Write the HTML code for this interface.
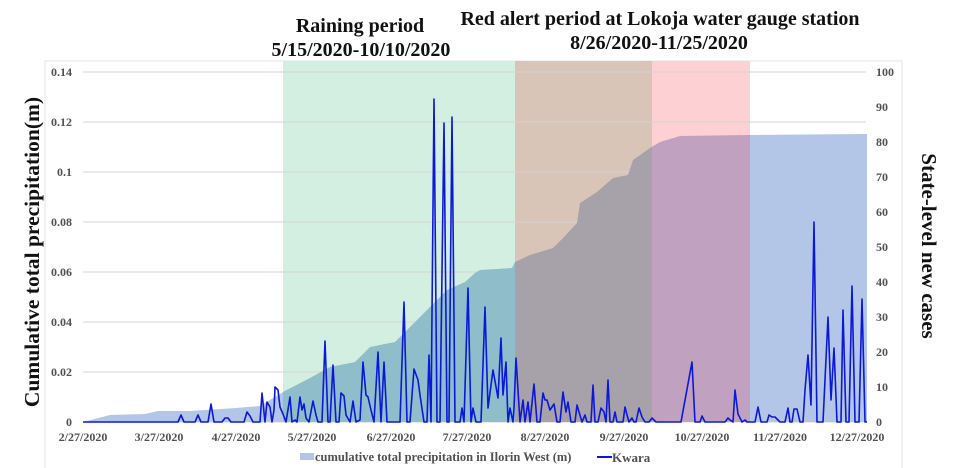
<!DOCTYPE html>
<html><head><meta charset="utf-8"><style>
html,body{margin:0;padding:0;background:#fff;}
svg{display:block;font-family:"Liberation Serif",serif;}
.t{font-weight:bold;font-size:12px;fill:#505050;}
.h{font-weight:bold;font-size:20px;fill:#111;}
</style></head><body>
<svg width="970" height="468" viewBox="0 0 970 468">
<defs>
<path id="area" d="M83,422 L110,415 L145,414 L158,411 L190,411 L236,408 L260,406 L283,392 L310,378 L330,367 L355,362 L370,347 L395,342 L410,327 L430,307 L447,290 L465,282 L475,273 L480,270 L512,268 L515,262 L530,255 L553,248 L563,238 L577,223 L580,203 L597,192 L613,178 L628,175 L633,160 L650,148 L660,142 L680,136 L747,135 L867,134 L867,422 Z"/>
<clipPath id="c0"><rect x="0" y="0" width="283" height="468"/></clipPath>
<clipPath id="c1"><rect x="283" y="0" width="232" height="468"/></clipPath>
<clipPath id="c2"><rect x="515" y="0" width="137" height="468"/></clipPath>
<clipPath id="c3"><rect x="652" y="0" width="98" height="468"/></clipPath>
<clipPath id="c4"><rect x="750" y="0" width="220" height="468"/></clipPath>
</defs>
<rect x="45" y="61" width="857" height="420" fill="none" stroke="#e3e3e3"/>
<rect x="283" y="61" width="232" height="361" fill="#d3efe2"/>
<rect x="515" y="61" width="137" height="361" fill="#d9c5b8"/>
<rect x="652" y="61" width="98" height="361" fill="#fdd0d4"/>
<g stroke="#d4d4d4" stroke-width="1">
<line x1="83" x2="866" y1="72" y2="72"/><line x1="83" x2="866" y1="122" y2="122"/>
<line x1="83" x2="866" y1="172" y2="172"/><line x1="83" x2="866" y1="222" y2="222"/>
<line x1="83" x2="866" y1="272" y2="272"/><line x1="83" x2="866" y1="322" y2="322"/>
<line x1="83" x2="866" y1="372" y2="372"/><line x1="83" x2="866" y1="422" y2="422"/>
</g>
<use href="#area" fill="#b4c6e7" clip-path="url(#c0)"/>
<use href="#area" fill="#8fbdca" clip-path="url(#c1)"/>
<use href="#area" fill="#a7a1aa" clip-path="url(#c2)"/>
<use href="#area" fill="#c0a2c0" clip-path="url(#c3)"/>
<use href="#area" fill="#b4c6e7" clip-path="url(#c4)"/>
<polyline fill="none" stroke="#0b18d8" stroke-width="1.6" stroke-linejoin="round" points="83,422 178,422 181,415 184,422 195,422 198,415 201,422 208,422 211,404 214,422 222,422 225,418 228,418 231,422 244,422 247,412 250,416 253,422 260,422 262,393 265,422 267,402 270,407 272,422 274,410 275,387 278,390 280,407 283,414 286,422 290,397 292,422 295,420 297,422 300,397 302,410 304,404 306,418 309,422 313,401 316,415 318,422 322,422 325,341 328,422 330,422 333,365 336,422 339,422 341,393 344,396 346,415 350,422 353,401 356,422 360,420 363,362 366,395 368,397 371,410 374,422 378,352 381,422 384,362 387,422 400,422 404,302 407,422 410,422 414,369 418,380 420,395 424,422 427,422 429,355 431,422 434,99 437,422 440,422 444,123 447,422 449,422 452,117 455,422 460,422 462,408 464,422 468,288 471,422 473,408 476,422 481,422 485,307 488,408 493,370 498,398 501,338 503,395 506,362 508,422 510,408 513,422 514,408 516,358 520,422 523,400 525,422 528,402 530,422 534,384 537,422 540,422 543,393 545,400 547,400 550,410 554,404 557,422 560,422 563,392 566,412 568,402 571,422 575,422 577,405 579,412 582,422 585,415 587,422 591,422 593,385 595,422 598,422 601,408 604,412 606,422 608,380 610,422 613,422 615,412 617,422 623,422 625,407 627,415 629,422 632,418 634,422 636,422 639,408 642,417 645,422 649,422 652,418 656,422 681,422 692,362 695,422 700,422 702,416 705,422 725,422 728,418 730,420 733,422 735,390 738,414 740,418 742,422 745,420 747,422 750,422 755,422 758,407 761,422 767,422 769,415 772,417 775,417 778,420 780,422 785,422 788,408 790,422 792,422 794,409 797,409 800,422 803,422 805,390 808,355 811,405 814,222 817,422 823,422 828,317 831,400 834,348 837,422 841,422 843,310 846,422 849,422 852,286 855,422 859,422 862,299 865,422 867,422"/>
<g class="t" text-anchor="end">
<text x="72" y="426">0</text><text x="72" y="376">0.02</text><text x="72" y="326">0.04</text>
<text x="72" y="276">0.06</text><text x="72" y="226">0.08</text><text x="72" y="176">0.1</text>
<text x="72" y="126">0.12</text><text x="72" y="76">0.14</text>
</g>
<g class="t" text-anchor="start">
<text x="876" y="426">0</text><text x="876" y="391">10</text><text x="876" y="356">20</text>
<text x="876" y="321">30</text><text x="876" y="286">40</text><text x="876" y="251">50</text>
<text x="876" y="216">60</text><text x="876" y="181">70</text><text x="876" y="146">80</text>
<text x="876" y="111">90</text><text x="876" y="76">100</text>
</g>
<g class="t" text-anchor="middle">
<text x="83" y="441">2/27/2020</text><text x="159" y="441">3/27/2020</text>
<text x="236" y="441">4/27/2020</text><text x="312" y="441">5/27/2020</text>
<text x="391" y="441">6/27/2020</text><text x="467" y="441">7/27/2020</text>
<text x="545" y="441">8/27/2020</text><text x="624" y="441">9/27/2020</text>
<text x="702" y="441">10/27/2020</text><text x="780" y="441">11/27/2020</text>
<text x="857" y="441">12/27/2020</text>
</g>
<g class="h" text-anchor="middle">
<text x="360" y="32">Raining period</text>
<text x="361" y="56">5/15/2020-10/10/2020</text>
<text x="660" y="25">Red alert period at Lokoja water gauge station</text>
<text x="659" y="49">8/26/2020-11/25/2020</text>
</g>
<text transform="translate(39,252) rotate(-90)" text-anchor="middle" style="font-weight:bold;font-size:21.5px;fill:#111">Cumulative total precipitation(m)</text>
<text transform="translate(922,246) rotate(90)" text-anchor="middle" style="font-weight:bold;font-size:21px;fill:#111">State-level new cases</text>
<rect x="300" y="453" width="14" height="7" fill="#b4c6e7"/>
<text x="315" y="461" style="font-weight:bold;font-size:12.5px;fill:#505050">cumulative total precipitation in Ilorin West (m)</text>
<line x1="597" x2="612" y1="457" y2="457" stroke="#0b18d8" stroke-width="2"/>
<text x="612" y="462" style="font-weight:bold;font-size:13px;fill:#505050">Kwara</text>
</svg>
</body></html>
